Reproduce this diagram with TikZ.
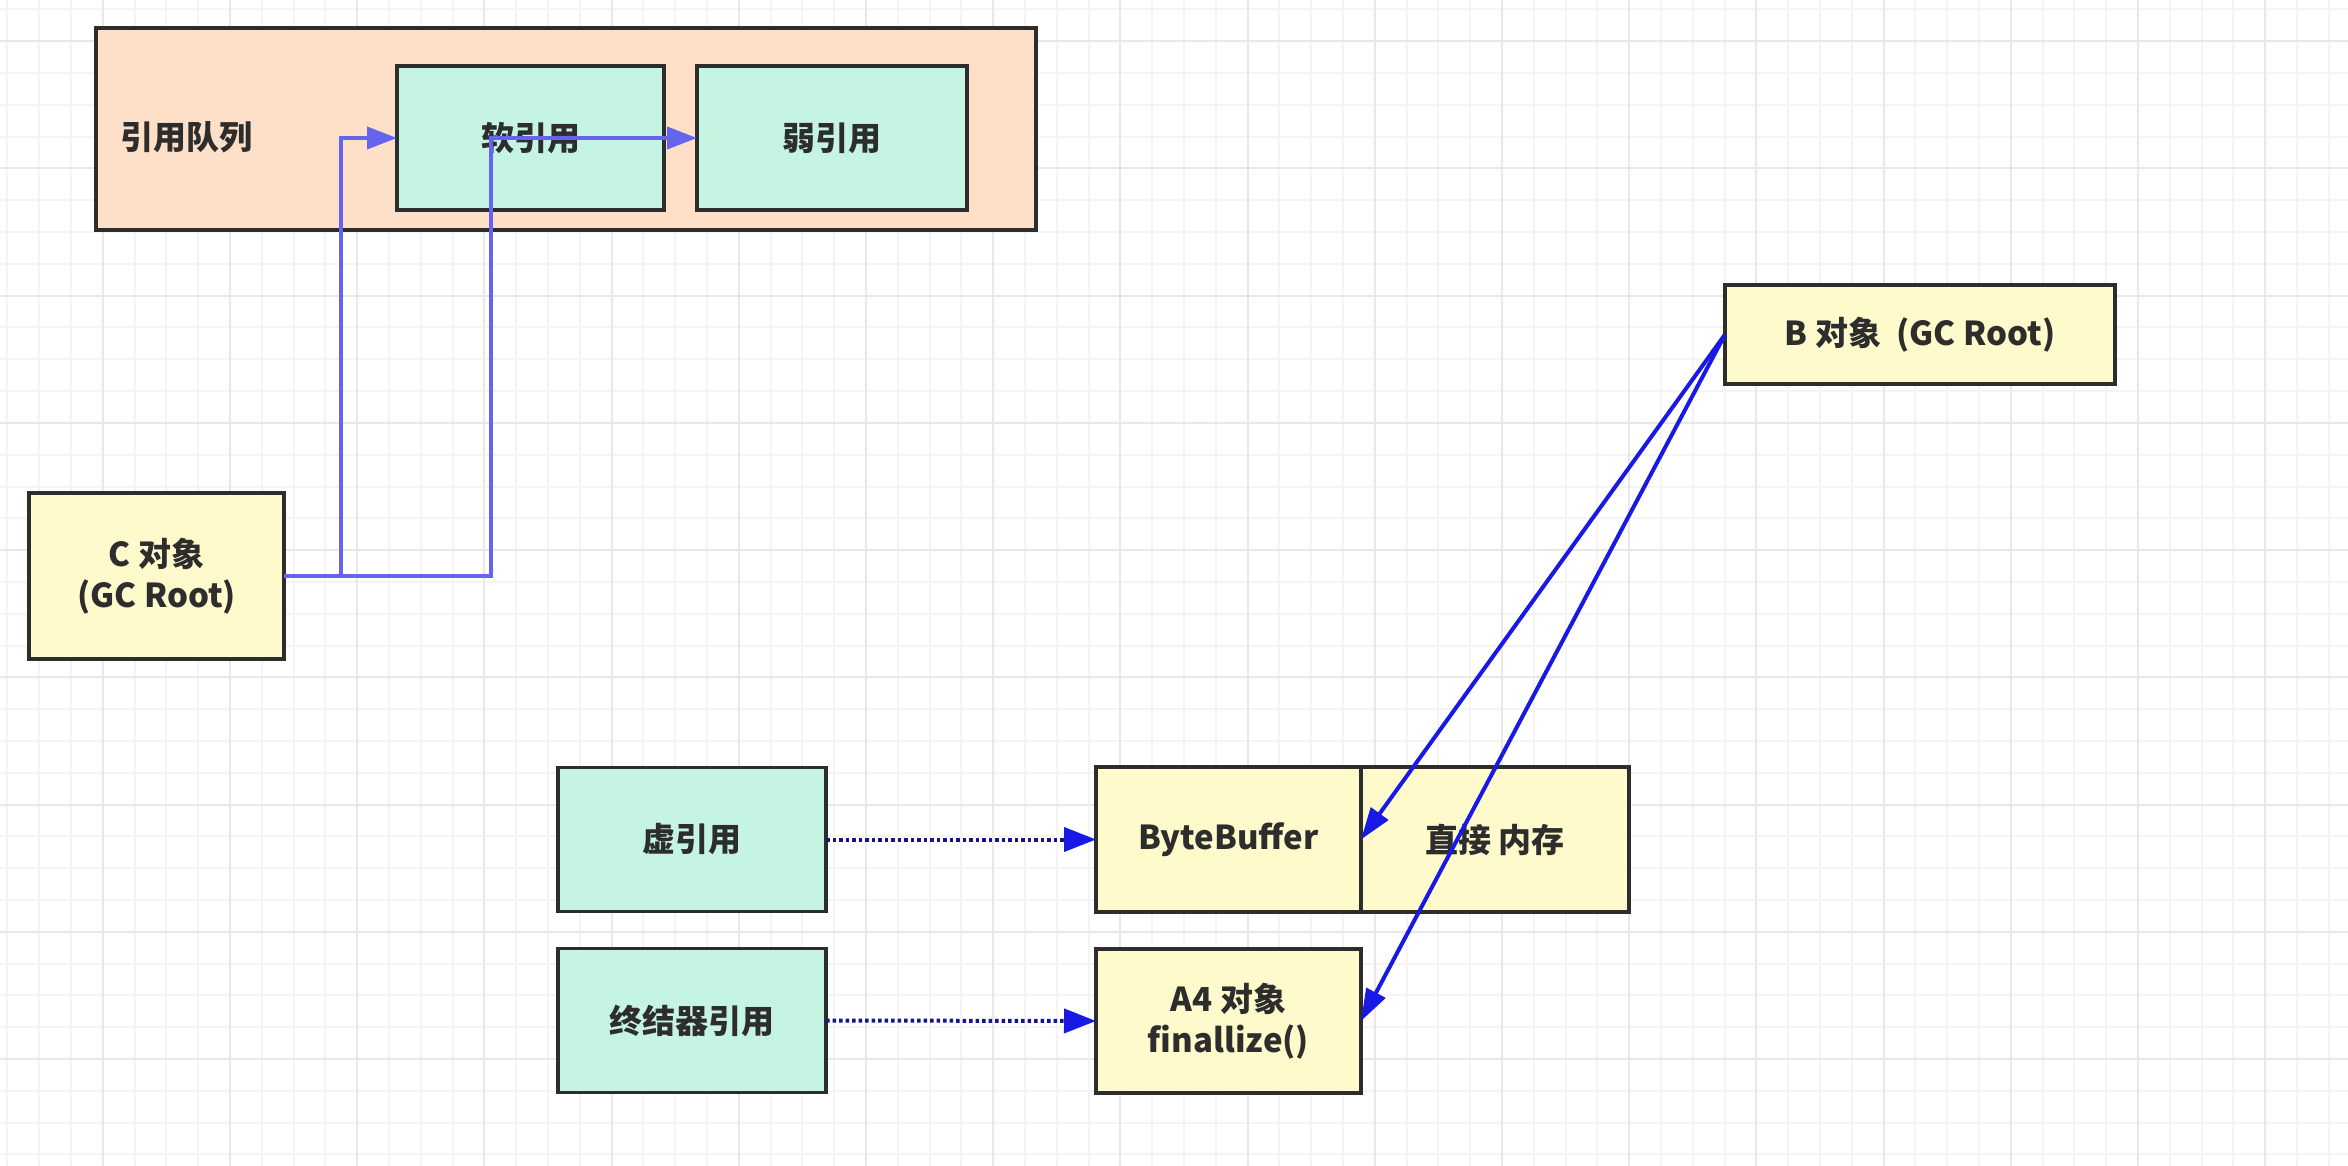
\documentclass[tikz,border=0pt]{standalone}
\usepackage{fontspec}
\setmainfont{Noto Sans CJK SC}
\usetikzlibrary{arrows.meta,positioning}

\definecolor{queuefill}{RGB}{254,224,200}
\definecolor{refgreen}{RGB}{197,245,226}
\definecolor{objyellow}{RGB}{255,250,203}
\definecolor{boxline}{RGB}{45,45,45}
\definecolor{queueblue}{RGB}{100,100,238}
\definecolor{rootblue}{RGB}{25,25,230}
\definecolor{dotnavy}{RGB}{20,20,140}
\definecolor{gridminor}{RGB}{244,244,244}
\definecolor{gridmajor}{RGB}{232,232,232}

\tikzset{
  box/.style={draw=boxline, line width=3.5pt, outer sep=0pt, inner sep=0pt,
    text=boxline, align=center, font={\bfseries\fontsize{33}{41}\selectfont}},
  refbox/.style={box, fill=refgreen, minimum width=268pt, minimum height=144pt},
  objbox/.style={box, fill=objyellow},
  queuearrow/.style={draw=queueblue, line width=4pt, -{Triangle[length=30pt,width=22pt]}},
  rootarrow/.style={draw=rootblue, line width=4pt, -{Triangle[length=32pt,width=21pt]}},
  dotarrow/.style={draw=dotnavy, line width=4pt, dash pattern=on 3.5pt off 3pt,
    -{Triangle[length=32pt,width=24pt,color=rootblue]}},
  gridline/.style={draw=gridminor, line width=2pt},
  gridbold/.style={draw=gridmajor, line width=2pt}
}

\begin{document}
\begin{tikzpicture}[x=1pt,y=-1pt]
    \useasboundingbox (0,0) rectangle (2348,1166);
    \fill[white] (0,0) rectangle (2348,1166);

    % Canvas grid
    \foreach \i in {0,...,73} \draw[gridline] ({7.4+31.8*\i},0) -- ({7.4+31.8*\i},1166);
    \foreach \j in {0,...,36} \draw[gridline] (0,{9.5+31.8*\j}) -- (2348,{9.5+31.8*\j});
    \foreach \i in {3,7,...,71} \draw[gridbold] ({7.4+31.8*\i},0) -- ({7.4+31.8*\i},1166);
    \foreach \j in {1,5,...,33} \draw[gridbold] (0,{9.5+31.8*\j}) -- (2348,{9.5+31.8*\j});

    % Reference queue with soft and weak references
    \node[box, fill=queuefill, line width=4pt, minimum width=940pt, minimum height=202pt] (queue) at (566,129) {};
    \node[text=boxline, font={\bfseries\fontsize{33}{41}\selectfont}] (queuelabel) at (186,137) {引用队列};
    \node[refbox, minimum width=267pt] (soft) at (530.5,138) {软引用};
    \node[refbox, minimum width=270pt] (weak) at (832,138) {弱引用};

    % GC roots
    \node[objbox, minimum width=255pt, minimum height=166pt] (cobj) at (156.5,576) {C 对象\\(GC Root)};
    \node[objbox, minimum width=390pt, minimum height=99pt] (bobj) at (1920,334.5) {B 对象\ \ (GC Root)};

    % Phantom and finalizer references
    \node[refbox] (phantom) at (692,839.5) {虚引用};
    \node[refbox, below=37pt of phantom] (final) {终结器引用};

    % Objects
    \node[objbox, minimum width=265pt, minimum height=145pt] (bytebuf) at (1228.5,839.5) {ByteBuffer};
    \node[objbox, minimum width=268pt, minimum height=145pt, right=0pt of bytebuf] (directmem) {直接 内存};
    \node[objbox, minimum width=265pt, minimum height=144pt, below=37pt of bytebuf] (aobj) {A4 对象\\finallize()};

    % Connectors
    \draw[queuearrow] (cobj.east) -| ([xshift=-56pt]soft.west) -- (soft.west);
    \draw[queuearrow] (cobj.east) -| ([xshift=-206pt]weak.west) -- (weak.west);
    \draw[rootarrow] (bobj.west) -- (bytebuf.east);
    \draw[rootarrow] (bobj.west) -- (aobj.east);
    \draw[dotarrow] (phantom.east) -- (bytebuf.west);
    \draw[dotarrow] (final.east) -- (aobj.west);
\end{tikzpicture}
\end{document}
